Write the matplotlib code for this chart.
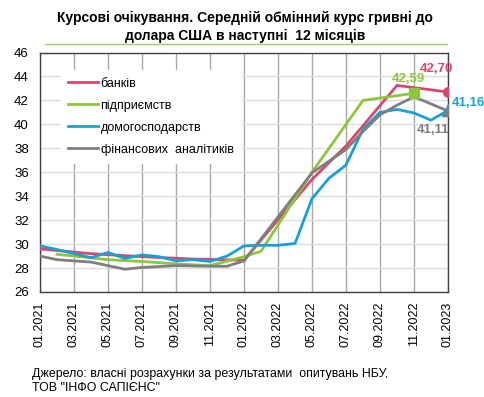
import numpy as np
import matplotlib
matplotlib.use('Agg')
import matplotlib.pyplot as plt

plt.rcParams['font.family'] = ['Liberation Sans', 'DejaVu Sans']

# months 01.2021 .. 01.2023 (index 0..24), None = no survey that month
months = ['01.2021', '02.2021', '03.2021', '04.2021', '05.2021', '06.2021', '07.2021',
          '08.2021', '09.2021', '10.2021', '11.2021', '12.2021', '01.2022', '02.2022',
          '03.2022', '04.2022', '05.2022', '06.2022', '07.2022', '08.2022', '09.2022',
          '10.2022', '11.2022', '12.2022', '01.2023']

banks = [29.6, None, None, 29.2, None, None, 28.95, None, None, 28.75, None, None,
         28.65, None, None, None, 35.4, None, 38.2, None, None, 43.25, None, None, 42.70]
firms = [None, 29.15, None, None, 28.7, None, 28.55, None, 28.35, None, 28.2, None,
         28.95, 29.4, None, None, 36.0, None, None, 42.0, None, None, 42.59, None, None]
households = [29.85, 29.55, 29.2, 28.87, 29.3, 28.8, 29.1, 28.95, 28.6, 28.7, 28.55, 29.0,
              29.85, 29.9, 29.9, 30.05, 33.8, 35.5, 36.6, 39.6, 41.0, 41.25, 40.95, 40.35, 41.16]
analysts = [29.0, 28.7, None, 28.5, None, 27.9, 28.05, None, 28.2, None, 28.15, 28.15,
            28.6, None, None, None, 35.95, None, 37.9, 39.4, 40.8, 41.6, 42.3, None, 41.11]

names = ['банків', 'підприємств', 'домогосподарств', 'фінансових  аналітиків']
colors = ['#d9486a', '#8cc63e', '#1aa0d8', '#7f7f7f']


def pts(vals):
    x = [i for i, v in enumerate(vals) if v is not None]
    y = [v for v in vals if v is not None]
    return np.array(x), np.array(y)


fig = plt.figure(figsize=(4.85, 3.97), dpi=100)
ax = fig.add_axes([40 / 485, 105 / 397, 408 / 485, 239.5 / 397])

series = [banks, firms, households, analysts]
for vals, nm, c in zip(series, names, colors):
    x, y = pts(vals)
    ax.plot(x, y, color=c, lw=2, label=nm, zorder=3)

# end markers
bx, by = pts(banks)
ax.plot(bx[-1], by[-1], 'o', color=colors[0], ms=7, zorder=4)
fx, fy = pts(firms)
ax.plot(fx[-1], fy[-1], 's', color=colors[1], ms=6.5, zorder=4)
hx, hy = pts(households)
ax.plot(hx[-1], hy[-1], '^', color=colors[2], ms=9, zorder=4)
gx, gy = pts(analysts)
ax.plot(gx[-1], gy[-1], '^', color=colors[3], ms=7, zorder=5)

lab = dict(fontsize=9.5, fontweight='bold', textcoords='offset pixels', ha='left', va='center')
ax.annotate('42,70', (bx[-1], by[-1]), xytext=(-28, 23), color=colors[0], **lab)
ax.annotate('42,59', (fx[-1], fy[-1]), xytext=(-22, 14), color=colors[1], **lab)
ax.annotate('41,16', (hx[-1], hy[-1]), xytext=(4, 7), color=colors[2], **lab)
ax.annotate('41,11', (gx[-1], gy[-1]), xytext=(-31, -19), color=colors[3], **lab)

ax.set_xlim(0, 24)
ax.set_ylim(26, 46)
ax.set_yticks(np.arange(26, 47, 2))
ax.set_xticks(range(0, 25, 2))
ax.set_xticklabels(months[::2], rotation=90, fontsize=9)
ax.tick_params(axis='y', labelsize=9.5, length=0, pad=8)
ax.tick_params(axis='x', length=0, pad=7)
ax.xaxis.grid(True, color='#a6a6a6', lw=1)
ax.yaxis.grid(True, color='#dcdcdc', lw=1)
ax.set_axisbelow(True)
for s in ax.spines.values():
    s.set_color('#404040')
    s.set_linewidth(1)

leg = ax.legend(loc='upper left', bbox_to_anchor=(0.035, 0.952), frameon=True,
                fontsize=9, handlelength=2.4, handletextpad=0.2, labelspacing=0.8,
                borderpad=0.6, fancybox=False)
leg.get_frame().set_edgecolor('white')
leg.get_frame().set_facecolor('white')
leg.get_frame().set_alpha(1)

fig.text(0.505, 0.972, 'Курсові очікування. Середній обмінний курс гривні до\nдолара США в наступні  12 місяців',
         ha='center', va='top', fontsize=10, fontweight='bold', linespacing=1.35)
fig.add_artist(plt.Line2D([45 / 485, 447 / 485], [1 - 44 / 397, 1 - 44 / 397],
                          color='#9bcf6a', lw=1))

fig.text(32 / 485, 1 - 368 / 397, 'Джерело: власні розрахунки за результатами  опитувань НБУ,\nТОВ "ІНФО САПІЄНС"',
         ha='left', va='top', fontsize=8.9, linespacing=1.2)

fig.savefig('out.png', dpi=100)
